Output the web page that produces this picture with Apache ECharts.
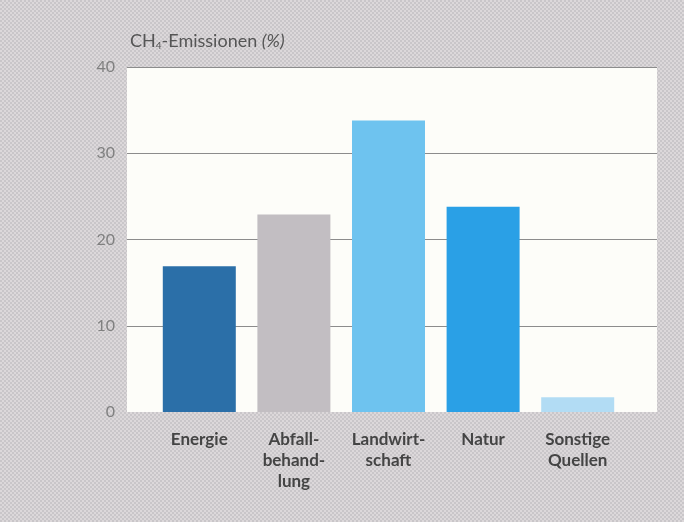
<!DOCTYPE html>
<html><head><meta charset="utf-8">
<script src="https://cdn.jsdelivr.net/npm/echarts@6/dist/echarts.min.js"></script>
<style>html,body{margin:0;padding:0;}#c{width:684px;height:522px;}</style>
</head><body><div id="c"></div>
<script>
const categories = ['Energie', 'Abfall-\nbehand-\nlung', 'Landwirt-\nschaft', 'Natur', 'Sonstige\nQuellen'];
const values = [16.9, 22.9, 33.8, 23.8, 1.7];
const barColors = ['#2b6fa8', '#c2bec2', '#6ec3ef', '#2aa0e6', '#b2dcf4'];
const yTicks = [0, 10, 20, 30, 40];

function makePattern(a, b) {
  const cv = document.createElement('canvas');
  cv.width = 4; cv.height = 4;
  const g = cv.getContext('2d');
  g.fillStyle = a; g.fillRect(0, 0, 4, 4);
  g.fillStyle = b;
  g.fillRect(0, 0, 2, 2); g.fillRect(2, 2, 2, 2);
  return { image: cv, repeat: 'repeat' };
}

const chart = echarts.init(document.getElementById('c'));
const font = 'Lato, "Open Sans", sans-serif';
chart.setOption({
  animation: false,
  backgroundColor: makePattern('#dcd8da', '#c9c6c9'),
  title: {
    left: 125, top: 27,
    text: '{n|CH}{s|4}{n|-Emissionen }{i|(%)}',
    textStyle: {
      fontWeight: 'normal',
      rich: {
        n: { fontFamily: font, fontSize: 18, fontWeight: 'normal', color: '#555' },
        s: { fontFamily: font, fontSize: 10, fontWeight: 'normal', color: '#555', padding: [9, 0, 0, 0] },
        i: { fontFamily: font, fontSize: 18, fontWeight: 'normal', color: '#555', fontStyle: 'italic' }
      }
    }
  },
  grid: [
    { left: 127, right: 27, top: 67, bottom: 110, show: true, backgroundColor: '#fdfdf9', borderWidth: 0 },
    { left: 152, right: 59, top: 67, bottom: 110 }
  ],
  xAxis: [
    { gridIndex: 0, type: 'value', show: false, min: 0, max: 1 },
    {
      gridIndex: 1, type: 'category', data: categories,
      axisLine: { show: false }, axisTick: { show: false },
      axisLabel: { interval: 0, hideOverlap: false, color: '#444', fontFamily: font, fontWeight: 'bold', fontSize: 17, lineHeight: 21, margin: 17 }
    }
  ],
  yAxis: [
    {
      gridIndex: 0, type: 'value', min: yTicks[0], max: yTicks[yTicks.length - 1], interval: 10,
      axisLine: { show: false }, axisTick: { show: false },
      axisLabel: { color: '#808080', fontFamily: font, fontSize: 16, margin: 12 },
      splitLine: { show: true, lineStyle: { color: ['rgba(0,0,0,0)', '#8c8c8c', '#8c8c8c', '#8c8c8c', '#8c8c8c'], width: 1 } }
    },
    { gridIndex: 1, type: 'value', min: 0, max: 40, interval: 10, show: false, splitLine: { show: false } }
  ],
  series: [{
    type: 'bar', xAxisIndex: 1, yAxisIndex: 1,
    barWidth: 73,
    data: values.map((v, i) => ({ value: v, itemStyle: { color: barColors[i] } }))
  }]
});
</script></body></html>
